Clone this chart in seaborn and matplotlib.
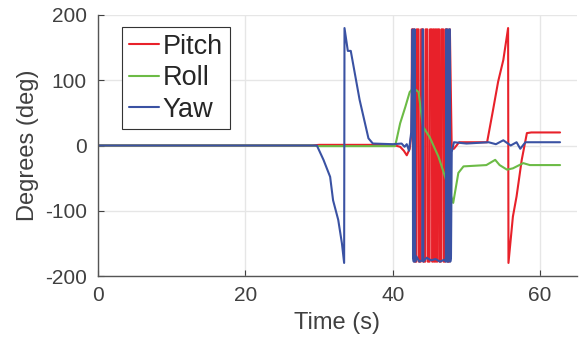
import matplotlib
matplotlib.use("Agg")
import matplotlib.pyplot as plt
import seaborn as sns
import pandas as pd

# ---- data ----
pitch_t = [0, 29.0, 30.0, 40, 41.0, 41.5, 41.9, 42.3, 42.55, 42.6, 42.9, 42.95, 43.2, 43.25,
           43.5, 43.55, 43.8, 43.85, 44.1, 44.15, 44.4, 44.45, 44.7, 44.75, 45.0, 45.05,
           45.3, 45.35, 45.45, 45.5, 45.6, 45.65, 45.75, 45.8, 45.9, 45.95, 46.05, 46.1,
           46.3, 46.35, 46.55, 46.6, 46.85, 46.9, 47.1, 47.15, 47.4, 47.45, 47.7, 47.75,
           48.0, 48.3, 49.0, 52.8, 53.6, 54.3, 55.0, 55.65, 55.7, 56.3, 56.8, 57.5, 58.2,
           58.8, 62.7]
pitch_v = [0, 0, 1, 1, -2, -8, -15, -5, 20, 178, 178, -178, -178, 178,
           178, -178, -178, 178, 178, -178, -178, 178, 178, -178, -178, 178,
           178, -178, -178, 178, 178, -178, -178, 178, 178, -178, -178, 178,
           178, -178, -178, 178, 178, -178, -178, 178, 178, -178, -178, 178,
           -5, -5, 5, 5, 54, 98, 131, 180, -180, -109, -78, -22, 19,
           20, 20]

roll_t = [0, 29.0, 30.0, 40.3, 40.5, 41.0, 41.7, 42.3, 42.8, 43.5, 44.1, 45.0, 46.2, 47.1,
          48.2, 48.9, 49.6, 52.7, 53.9, 54.5, 55.5, 56.3, 57.7, 58.6, 62.7]
roll_v = [0, 0, -1, -1, 8, 34, 59, 82, 88, 82, 29, 13, -17, -48,
          -88, -42, -32, -30, -22, -30, -37, -35, -27, -30, -30]

yaw_t = [0, 29.7, 30.6, 31.5, 31.9, 32.6, 33.1, 33.4, 33.45, 33.9, 34.3, 35.5,
         36.7, 37.3, 40.0, 41.2, 41.6, 41.9, 42.2, 42.5, 42.7, 42.75, 42.85, 42.95,
         43.0, 43.05, 43.2, 43.6, 44.0, 44.05, 44.1, 44.15, 44.6, 45.2, 45.8, 46.4,
         47.0, 47.2, 47.25, 47.35, 47.4, 47.55, 47.6, 47.75, 47.8, 47.9, 48.0,
         48.3, 50.0, 53.0, 54.0, 55.0, 56.0, 56.8, 57.3, 58.0, 62.7]
yaw_v = [0, 0, -22, -48, -84, -114, -150, -180, 180, 145, 145, 70,
         11, 3, 2, 3, -2, 2, -8, 20, 178, -170, -178, 178,
         178, -178, -170, -178, -176, 178, 178, -178, -172, -176, -174, -178,
         -175, -178, 178, 178, -178, -178, 178, 178, -178, -170, -10,
         5, 3, 5, 2, 8, 0, 5, -5, 5, 5]

# ---- figure ----
sns.set_theme(style="whitegrid")
plt.rcParams['font.family'] = ['Liberation Sans', 'DejaVu Sans']
plt.rcParams['axes.unicode_minus'] = False

fig = plt.figure(figsize=(5.79, 3.43), dpi=100)
ax = fig.add_axes([98/579, 1 - 276/343, (577-98)/579, (276-15)/343])

red, green, blue = "#e8212a", "#6cbb46", "#3a52a3"
df_p = pd.DataFrame({"t": pitch_t, "v": pitch_v})
df_r = pd.DataFrame({"t": roll_t, "v": roll_v})
df_y = pd.DataFrame({"t": yaw_t, "v": yaw_v})
sns.lineplot(data=df_p, x="t", y="v", ax=ax, color=red, lw=1.5, label="Pitch", sort=False)
sns.lineplot(data=df_r, x="t", y="v", ax=ax, color=green, lw=1.5, label="Roll", sort=False)
sns.lineplot(data=df_y, x="t", y="v", ax=ax, color=blue, lw=1.5, label="Yaw", sort=False)

ax.set_xlim(0, 65)
ax.set_ylim(-200, 200)
ax.set_xticks([0, 20, 40, 60])
ax.set_yticks([-200, -100, 0, 100, 200])
ax.grid(True, color="#e6e6e6", lw=1)
tc = "#404040"
ax.tick_params(axis="both", labelsize=15, colors=tc, direction="in", length=4,
               width=0.8, left=True, bottom=True)
ax.tick_params(axis="y", pad=8)
ax.tick_params(axis="x", pad=7)
ax.set_xlabel("Time (s)", fontsize=17, color=tc, labelpad=5)
ax.set_ylabel("Degrees (deg)", fontsize=17, color=tc, labelpad=4)
for s in ["top", "right"]:
    ax.spines[s].set_visible(False)
for s in ["left", "bottom"]:
    ax.spines[s].set_color("#555555")
    ax.spines[s].set_linewidth(1)

leg = ax.legend(loc="upper left", bbox_to_anchor=(24/479, 1 - 12/261), fontsize=19.5,
                frameon=True, fancybox=False, handlelength=1.1, handletextpad=0.15,
                borderpad=0.25, labelspacing=0.2, borderaxespad=0)
leg.get_frame().set_edgecolor("#333333")
leg.get_frame().set_linewidth(0.8)
leg.get_frame().set_alpha(1)

fig.savefig("out.png", dpi=100)
